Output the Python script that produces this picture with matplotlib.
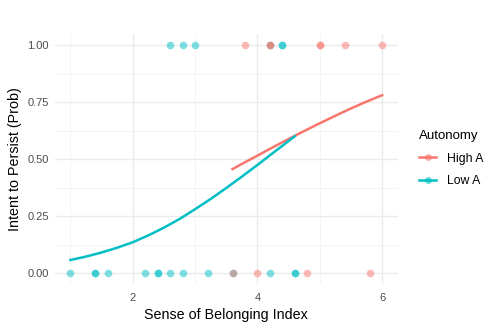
import numpy as np
import matplotlib.pyplot as plt
from matplotlib.lines import Line2D

plt.rcParams['font.family'] = ['Liberation Sans', 'DejaVu Sans']

red = '#F8766D'
cyan = '#00BFC4'

# observed points (x, outcome 0/1)
high_x = [3.6, 4.0, 4.8, 5.8, 3.8, 4.2, 4.2, 5.0, 5.0, 5.4, 6.0]
high_y = [0, 0, 0, 0, 1, 1, 1, 1, 1, 1, 1]
low_x = [1.0, 1.4, 1.4, 1.6, 2.2, 2.4, 2.4, 2.6, 2.8, 3.2, 3.6, 4.2, 4.6, 4.6,
         2.6, 2.8, 3.0, 4.2, 4.4, 4.4]
low_y = [0, 0, 0, 0, 0, 0, 0, 0, 0, 0, 0, 0, 0, 0,
         1, 1, 1, 1, 1, 1]

# fitted curves
high_fit_x = [3.6, 3.8, 4.0, 4.25, 4.5, 4.75, 5.0, 5.25, 5.5, 5.75, 6.0]
high_fit_y = [0.456, 0.486, 0.515, 0.552, 0.588, 0.623, 0.657, 0.69, 0.722, 0.752, 0.78]
low_fit_x = [1.0, 1.25, 1.5, 1.75, 2.0, 2.25, 2.5, 2.75, 3.0, 3.25, 3.5, 3.75, 4.0, 4.25, 4.6]
low_fit_y = [0.057, 0.072, 0.09, 0.111, 0.135, 0.165, 0.199, 0.237, 0.28, 0.325,
             0.373, 0.423, 0.474, 0.527, 0.60]

fig = plt.figure(figsize=(4.99, 3.29), dpi=100)
ax = fig.add_axes([0.110, 0.1356, 0.687, 0.762])

ax.scatter(low_x, low_y, s=30, color=cyan, alpha=0.5, linewidths=0, zorder=3)
ax.scatter(high_x, high_y, s=30, color=red, alpha=0.5, linewidths=0, zorder=3)
ax.plot(high_fit_x, high_fit_y, color=red, lw=1.8, zorder=4)
ax.plot(low_fit_x, low_fit_y, color=cyan, lw=1.8, zorder=4)

ax.set_xlim(0.75, 6.25)
ax.set_ylim(-0.05, 1.05)
ax.set_xticks([2, 4, 6])
ax.set_xticks([1, 3, 5], minor=True)
ax.set_yticks([0, 0.25, 0.5, 0.75, 1.0])
ax.set_yticks([0.125, 0.375, 0.625, 0.875], minor=True)
ax.set_yticklabels(['0.00', '0.25', '0.50', '0.75', '1.00'])
ax.grid(which='major', color='#EBEBEB', lw=1.0)
ax.grid(which='minor', color='#F2F2F2', lw=0.6)
ax.set_axisbelow(True)
for s in ax.spines.values():
    s.set_visible(False)
ax.tick_params(which='both', length=0, labelsize=8, labelcolor='#4D4D4D')
ax.tick_params(axis='x', pad=6.5)
ax.tick_params(axis='y', pad=4.5)

ax.set_xlabel('Sense of Belonging Index', fontsize=10.3, labelpad=3)
ax.set_ylabel('Intent to Persist (Prob)', fontsize=10.3, labelpad=4)

handles = [
    Line2D([], [], color=red, lw=1.8, marker='o', markersize=5,
           markerfacecolor=(0.973, 0.463, 0.427, 0.6), markeredgewidth=0),
    Line2D([], [], color=cyan, lw=1.8, marker='o', markersize=5,
           markerfacecolor=(0.0, 0.749, 0.769, 0.6), markeredgewidth=0),
]
fig.legend(handles, ['High A', 'Low A'], title='Autonomy', loc='center left',
           bbox_to_anchor=(0.818, 0.518), frameon=False, fontsize=8.8,
           title_fontsize=9.5, handlelength=1.4, handletextpad=0.9,
           labelspacing=0.85, alignment='left')

fig.savefig('out.png', dpi=100)
